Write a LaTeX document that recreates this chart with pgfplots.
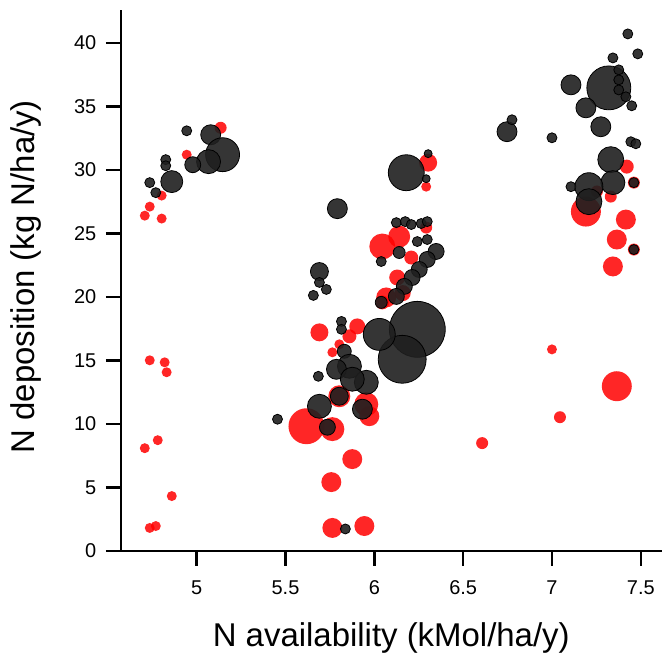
\documentclass[border=0pt]{standalone}
\usepackage{pgfplots}
\pgfplotsset{compat=1.18}
\usepackage{fontspec}
\setmainfont{Liberation Sans}
\begin{document}
\begin{tikzpicture}
\begin{axis}[
  x=178pt, y=12.725pt,
  xmin=4.573, xmax=7.618, ymin=0, ymax=42.6,
  clip=false,
  axis x line*=bottom, axis y line*=left,
  axis line style={line width=2.5pt},
  every tick/.style={black, line width=2.5pt},
  tick align=outside, major tick length=15pt,
  xtick={5,5.5,6,6.5,7,7.5},
  ytick={0,5,10,15,20,25,30,35,40},
  /pgf/number format/assume math mode=true,
  ticklabel style={font=\fontsize{20}{24}\selectfont},
  xticklabel style={/pgf/number format/fixed, yshift=-11pt},
  yticklabel style={xshift=-6pt},
  every axis x label/.style={at={(axis description cs:0.5,-0.16)}, anchor=center},
  every axis y label/.style={at={(axis description cs:-0.175,0.507)}, anchor=center, rotate=90},
  label style={font=\fontsize{33}{40}\selectfont},
  xlabel={N availability (kMol/ha/y)},
  ylabel={N deposition (kg N/ha/y)},
  visualization depends on={\thisrow{r} \as \perpointmarksize},
]
\path (axis cs:3.893,-8.41) rectangle (axis cs:7.618,43.38);
% red points
\addplot[scatter, only marks, mark=*,
  scatter/use mapped color={draw=red, fill=red, draw opacity=0, fill opacity=0.85},
  scatter/@pre marker code/.append style={/tikz/mark size=\perpointmarksize}]
table {
x y r
5.135 33.32 6
4.944 31.20 5
4.803 27.98 5
4.736 27.11 5
4.708 26.40 5
4.803 26.17 5
4.736 15.01 5
4.820 14.85 5
4.831 14.07 5
4.781 8.72 5
4.708 8.09 5
4.860 4.32 5
4.736 1.81 5
4.770 1.96 5
6.303 30.57 9
6.292 28.68 5
6.292 25.46 6
6.045 23.97 13
6.140 24.75 11
6.129 21.53 8
6.067 19.96 10
6.045 19.57 7
5.691 17.21 9
5.904 17.68 8
5.860 16.90 7
5.803 16.27 5
5.764 15.64 5
5.803 12.18 11
5.955 11.55 12
5.972 10.61 10
5.618 9.82 18
5.764 9.59 12
5.876 7.23 10
5.758 5.42 10
5.764 1.81 10
5.944 1.96 10
6.208 23.10 7
6.160 20.30 8
7.421 30.26 7
7.461 29.00 6
7.331 27.90 6
7.191 26.72 15
7.416 26.09 10
7.365 24.52 10
7.461 23.73 6
7.343 22.40 10
7.000 15.87 5
7.365 12.97 15
7.045 10.53 6
6.607 8.49 6
7.253 28.30 6
};
% black points
\addplot[scatter, only marks, mark=*,
  scatter/use mapped color={draw=black, fill=black!88, fill opacity=0.9, line width=0.8pt},
  scatter/@pre marker code/.append style={/tikz/mark size=\perpointmarksize}]
table {
x y r
4.944 33.08 5
5.079 32.77 10
5.146 31.20 17
5.067 30.65 12
4.978 30.41 8
4.826 30.81 5
4.826 30.33 5
4.860 29.08 11
4.736 29.00 5
4.770 28.21 5
6.180 29.78 18
6.303 31.28 4
6.292 29.31 4
5.792 26.95 10
6.124 25.85 5
6.174 25.93 5
6.208 25.70 5
6.264 25.78 5
6.298 25.93 5
6.242 24.36 5
6.298 24.52 5
6.140 23.50 6
6.039 22.79 5
6.348 23.58 8
6.298 22.95 8
6.253 22.16 8
6.213 21.53 8
6.169 20.83 8
6.124 20.04 8
6.039 19.57 6
5.691 22.00 9
5.691 21.14 5
5.730 20.59 5
5.657 20.12 5
5.815 18.07 5
5.815 17.45 5
6.242 17.45 28
6.157 15.09 24
6.028 17.05 16
5.831 15.72 7
5.860 14.54 12
5.787 14.30 10
5.955 13.28 12
5.876 13.52 12
5.685 13.75 5
5.691 11.39 12
5.933 11.16 10
5.803 12.18 9
5.736 9.74 8
5.455 10.37 5
5.837 1.73 5
7.427 40.71 5
7.483 39.14 5
7.343 38.82 5
7.320 36.46 22
7.376 37.88 5
7.376 37.09 5
7.376 36.30 5
7.416 35.76 5
7.449 35.05 5
7.107 36.70 10
7.191 34.89 10
7.275 33.40 10
6.747 33.01 10
6.775 33.95 5
7.000 32.53 5
7.444 32.22 5
7.472 32.06 5
7.331 30.81 13
7.343 29.00 12
7.461 29.00 5
7.107 28.68 5
7.208 28.68 14
7.208 27.50 13
7.461 23.73 5
};
\end{axis}
\end{tikzpicture}
\end{document}
